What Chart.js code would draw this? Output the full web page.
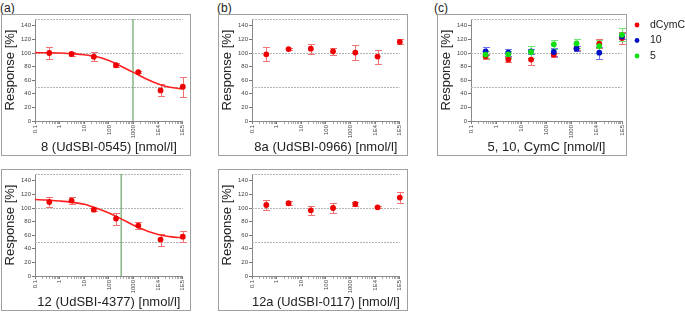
<!DOCTYPE html>
<html>
<head>
<meta charset="utf-8">
<script src="https://cdn.jsdelivr.net/npm/chart.js@4"></script>
<style>
  html, body { margin: 0; padding: 0; background: #fff; overflow: hidden; }
  body { width: 685px; height: 313px; position: relative; font-family: "Liberation Sans", Arial, sans-serif; }
  .panel-label { position: absolute; font-size: 12px; line-height: 14px; color: #222; }
  .frame { position: absolute; width: 190px; height: 142px; box-sizing: border-box; border: 1px solid #a0a0a0; pointer-events: none; }
  canvas { position: absolute; }
</style>
</head>
<body>
<div class="panel-label" style="left:0px;top:1px">(a)</div>
<div class="panel-label" style="left:217px;top:1px">(b)</div>
<div class="panel-label" style="left:434px;top:1px">(c)</div>

<canvas id="a1" width="190" height="141" style="left:1px;top:14px"></canvas>
<canvas id="b1" width="190" height="141" style="left:218px;top:14px"></canvas>
<canvas id="c1" width="248" height="141" style="left:437px;top:14px"></canvas>
<canvas id="a2" width="190" height="141" style="left:1px;top:169px"></canvas>
<canvas id="b2" width="190" height="141" style="left:218px;top:169px"></canvas>

<div class="frame" style="left:1px;top:14px"></div>
<div class="frame" style="left:218px;top:14px"></div>
<div class="frame" style="left:437px;top:14px"></div>
<div class="frame" style="left:1px;top:169px"></div>
<div class="frame" style="left:218px;top:169px"></div>

<script>
// concentrations [nmol/l] (1:8 dilution series)
const conc = [0.38, 3.05, 24.4, 195, 1560, 12500, 100000];
const xTickValues = [0.1, 1, 10, 100, 1000, 1e4, 1e5];
const xTickLabels = ["0.1", "1", "10", "100", "1000", "1E4", "1E5"];
const yTickValues = [0, 20, 40, 60, 80, 100, 120, 140];
const refLines = [50, 100, 150];

// (a) top: 8 (UdSBI-0545)
const resp8 = [100, 98.5, 94.5, 82, 72, 45, 50.5];
const err8 = [8.5, 3, 7, 3.2, 2, 8.7, 14.7];
const ic50_8 = 950;
// (a) bottom: 12 (UdSBI-4377)
const resp12 = [108.8, 110.9, 97.6, 84.4, 74.1, 53.5, 57.9];
const err12 = [7, 5.5, 2, 8.8, 5.7, 8.9, 7.6];
const ic50_12 = 316;

// fitted curves
const curveConc = [0.1, 0.3, 1, 3, 10, 30, 100, 300, 1000, 3000, 10000, 30000, 100000];
const curve8 = [100.5, 100.3, 100, 99, 97.5, 94.8, 89, 81, 71.5, 62.5, 54.5, 49.5, 47];
const curve12 = [112.4, 111.8, 110.3, 108.5, 105.4, 100, 92.6, 84.4, 74.6, 67.2, 60.9, 57.9, 55.9];

// (b) top: 8a (UdSBI-0966), bottom: 12a (UdSBI-0117)
const resp8a = [98.1, 105.8, 106.4, 102.5, 100.6, 94.7, 116.5];
const err8a = [10.4, 2, 7.5, 5.2, 10.8, 10.3, 3.5];
const resp12a = [104.4, 107, 96.6, 100, 105.9, 101, 115.3];
const err12a = [7, 3.2, 6.4, 8, 3.5, 1.5, 7.5];

// (c) 5, 10, CymC
const respDCymC = [95.2, 90.4, 90.4, 97.7, 106.8, 113.7, 121.9];
const errDCymC = [3.7, 3, 8.3, 3, 3, 6.8, 8.5];
const resp10 = [102.5, 100.5, 102.5, 101.5, 106.4, 100.5, 124.3];
const err10 = [6.1, 4.9, 3.7, 6.5, 3.9, 8.7, 4.4];
const resp5 = [97.7, 98.1, 101.5, 112.7, 114.1, 110.2, 126.8];
const err5 = [4.9, 4.8, 8.5, 6.5, 7, 9.5, 9.3];

const FONT = '"Liberation Sans", Arial, sans-serif';

// minor ticks 1..9 per decade
const xMinorTicks = [];
xTickValues.forEach((v, i) => {
    if (i === xTickValues.length - 1) { xMinorTicks.push(v); return; }
    for (let m = 1; m <= 9; m++) xMinorTicks.push(v * m);
});

function xLabelFor(value) {
    const i = xTickValues.findIndex(t => Math.abs(Math.log10(t) - Math.log10(value)) < 1e-6);
    return i >= 0 ? xTickLabels[i] : "";
}

const guidePlugin = {
    id: "guides",
    beforeDatasetsDraw(chart, args, opts) {
        const {ctx, chartArea} = chart;
        const xs = chart.scales.x, ys = chart.scales.y;
        ctx.save();
        // dotted reference lines
        ctx.strokeStyle = "#b4b4b4";
        ctx.lineWidth = 1;
        ctx.setLineDash([2, 1]);
        refLines.forEach(v => {
            const y = Math.round(ys.getPixelForValue(v)) + 0.5;
            ctx.beginPath();
            ctx.moveTo(chartArea.left, y);
            ctx.lineTo(chartArea.right, y);
            ctx.stroke();
        });
        ctx.setLineDash([]);
        // IC50 marker
        if (opts.ic50) {
            const x = xs.getPixelForValue(opts.ic50);
            ctx.strokeStyle = "rgba(110,170,110,0.85)";
            ctx.lineWidth = 1.5;
            ctx.beginPath();
            ctx.moveTo(x, ys.getPixelForValue(150));
            ctx.lineTo(x, chartArea.bottom);
            ctx.stroke();
        }
        // error bars
        ctx.lineWidth = 1;
        chart.data.datasets.forEach(ds => {
            if (!ds.errors) return;
            ctx.strokeStyle = ds.errorColor;
            ds.data.forEach((pt, j) => {
                const px = Math.round(xs.getPixelForValue(pt.x)) + 0.5;
                const top = Math.round(ys.getPixelForValue(pt.y + ds.errors[j])) + 0.5;
                const bot = Math.round(ys.getPixelForValue(pt.y - ds.errors[j])) + 0.5;
                ctx.beginPath();
                ctx.moveTo(px, top); ctx.lineTo(px, bot);
                ctx.moveTo(px - 3.5, top); ctx.lineTo(px + 3.5, top);
                ctx.moveTo(px - 3.5, bot); ctx.lineTo(px + 3.5, bot);
                ctx.stroke();
            });
        });
        ctx.restore();
    }
};

const sideLegendPlugin = {
    id: "sideLegend",
    afterDraw(chart, args, opts) {
        if (!opts.show) return;
        const {ctx} = chart;
        ctx.save();
        ctx.font = "10.5px " + FONT;
        ctx.textBaseline = "middle";
        let n = 0;
        chart.data.datasets.forEach(ds => {
            if (!ds.errors) return;
            const y = opts.y + n * opts.step;
            ctx.fillStyle = ds.backgroundColor;
            ctx.beginPath();
            ctx.arc(opts.x, y, 2.4, 0, Math.PI * 2);
            ctx.fill();
            ctx.fillStyle = "#222";
            ctx.fillText(ds.label, opts.x + 13, y);
            n++;
        });
        ctx.restore();
    }
};

function points(values) {
    return values.map((v, i) => ({x: conc[i], y: v}));
}

function series(label, values, errors, color, errorColor, order) {
    return {
        type: "scatter",
        label: label,
        data: points(values),
        errors: errors,
        errorColor: errorColor,
        backgroundColor: color,
        borderColor: color,
        pointRadius: 2.9,
        pointBorderWidth: 0,
        clip: false,
        order: order,
    };
}

function curve(values) {
    return {
        type: "line",
        label: "fit",
        data: curveConc.map((x, i) => ({x: x, y: values[i]})),
        borderColor: "#ff2020",
        borderWidth: 1.6,
        pointRadius: 0,
        cubicInterpolationMode: "monotone",
        fill: false,
        clip: false,
        order: 5,
    };
}

function makeChart(id, title, datasets, ic50, legend) {
    new Chart(document.getElementById(id), {
        type: "scatter",
        data: {datasets: datasets},
        options: {
            responsive: false,
            animation: false,
            events: [],
            layout: {padding: {top: 5, right: legend ? 63 : 5, left: 0, bottom: 0}},
            scales: {
                x: {
                    type: "logarithmic",
                    min: 0.1,
                    max: 1e5,
                    afterBuildTicks: scale => { scale.ticks = xMinorTicks.map(v => ({value: v})); },
                    afterFit: scale => { scale.height = 34; },
                    grid: {
                        drawOnChartArea: false,
                        tickLength: 3,
                        tickColor: ctx => xLabelFor(ctx.tick ? ctx.tick.value : 1) ? "#777" : "#aaa",
                    },
                    border: {color: "#888"},
                    ticks: {
                        autoSkip: false,
                        minRotation: 90,
                        maxRotation: 90,
                        padding: 1,
                        color: "#444",
                        font: {family: FONT, size: 6},
                        callback: value => xLabelFor(value),
                    },
                    title: {
                        display: true,
                        text: title,
                        color: "#222",
                        font: {family: FONT, size: 13},
                        padding: {top: 0, bottom: 0},
                    },
                },
                y: {
                    min: 0,
                    max: 150,
                    afterBuildTicks: scale => { scale.ticks = yTickValues.map(v => ({value: v})); },
                    afterFit: scale => { scale.width = 34; },
                    grid: {drawOnChartArea: false, tickLength: 3, tickColor: "#777"},
                    border: {color: "#888"},
                    ticks: {
                        padding: 1,
                        color: "#444",
                        font: {family: FONT, size: 6},
                    },
                    title: {
                        display: true,
                        text: "Response [%]",
                        color: "#222",
                        font: {family: FONT, size: 13},
                        padding: {top: 2, bottom: 0},
                    },
                },
            },
            plugins: {
                legend: {display: false},
                tooltip: {enabled: false},
                guides: {ic50: ic50},
                sideLegend: {show: !!legend, x: 200, y: 11, step: 15.5},
            },
        },
        plugins: [guidePlugin, sideLegendPlugin],
    });
}

const RED = "#ee0000", RED_ERR = "#f07272";

makeChart("a1", "8 (UdSBI-0545) [nmol/l]",
    [series("8", resp8, err8, RED, RED_ERR, 0), curve(curve8)], ic50_8, false);
makeChart("b1", "8a (UdSBI-0966) [nmol/l]",
    [series("8a", resp8a, err8a, RED, RED_ERR, 0)], null, false);
makeChart("c1", "5, 10, CymC [nmol/l]", [
    series("dCymC", respDCymC, errDCymC, RED, RED_ERR, 2),
    series("10", resp10, err10, "#0010c8", "#6b74ee", 1),
    series("5", resp5, err5, "#10e010", "#70e870", 0),
], null, true);
makeChart("a2", "12 (UdSBI-4377) [nmol/l]",
    [series("12", resp12, err12, RED, RED_ERR, 0), curve(curve12)], ic50_12, false);
makeChart("b2", "12a (UdSBI-0117) [nmol/l]",
    [series("12a", resp12a, err12a, RED, RED_ERR, 0)], null, false);
</script>
</body>
</html>
